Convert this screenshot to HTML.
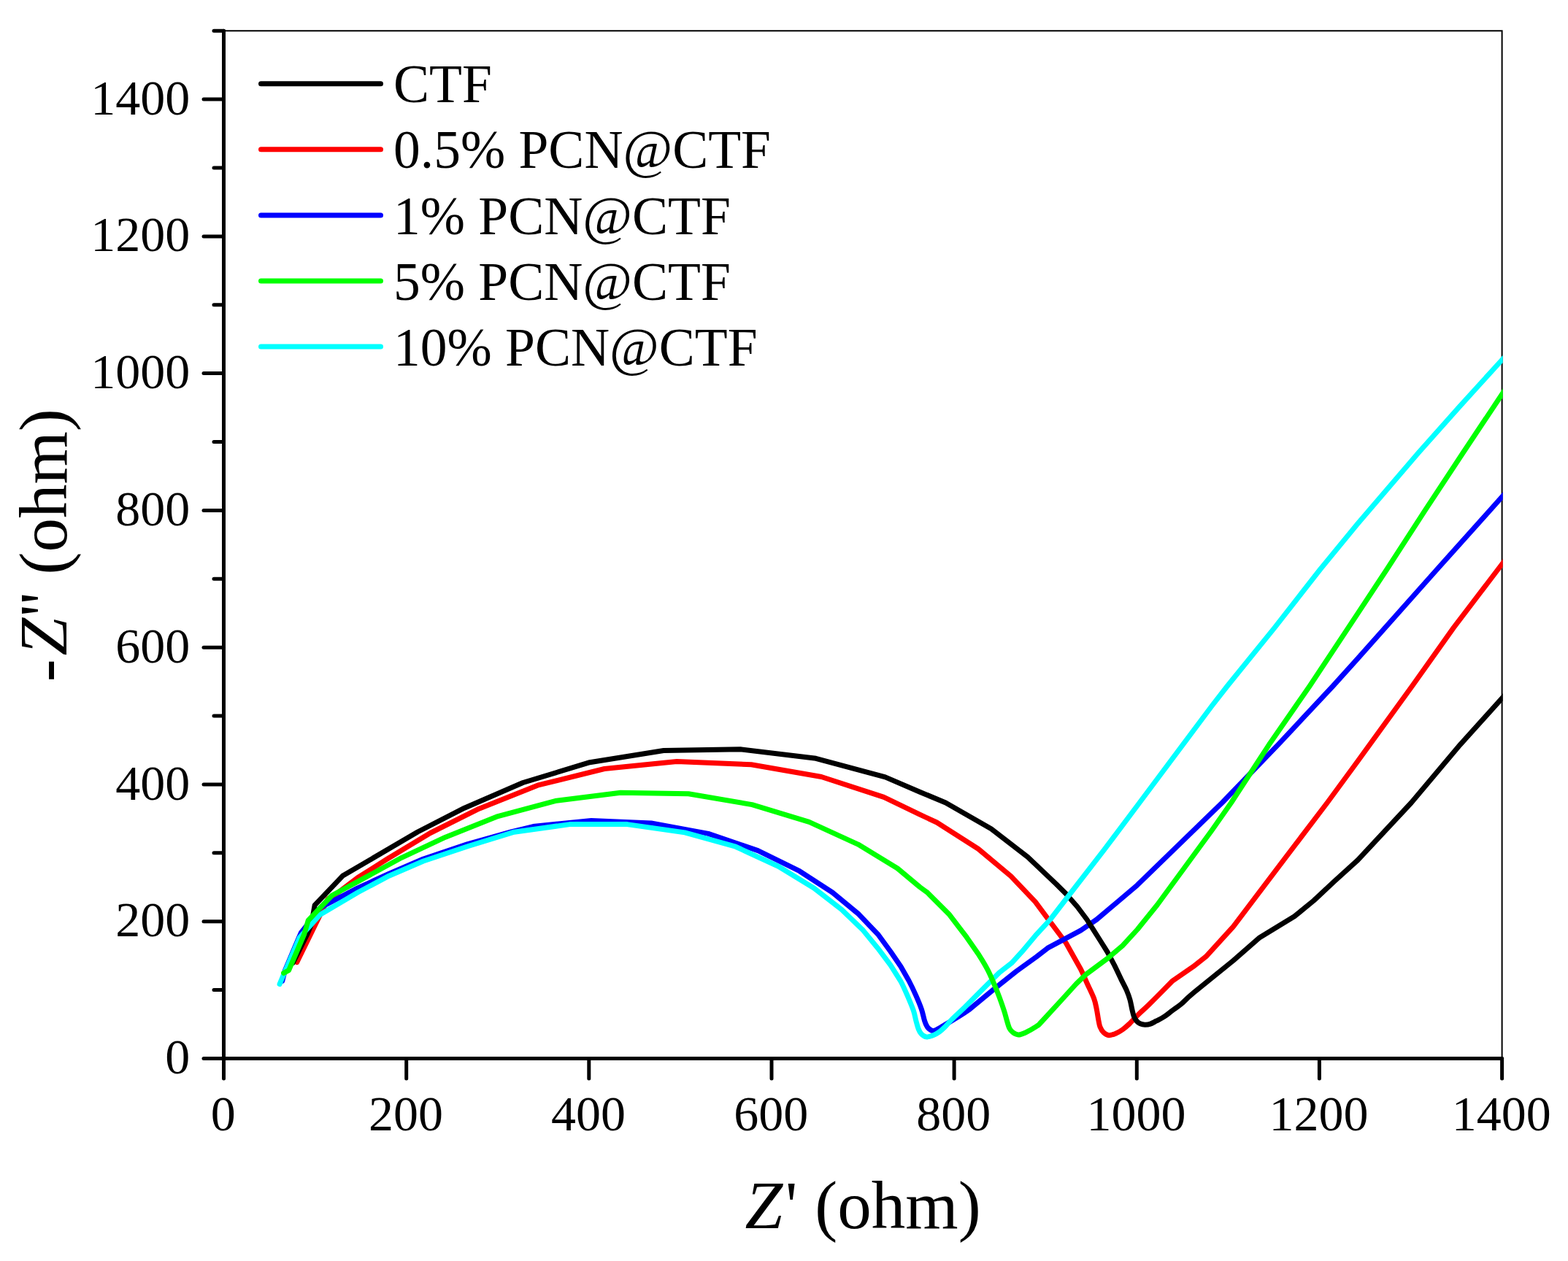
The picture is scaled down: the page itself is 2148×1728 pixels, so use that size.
<!DOCTYPE html>
<html lang="en"><head><meta charset="utf-8"><title>Nyquist plot</title>
<style>
html,body{margin:0;padding:0;background:#fff;}
body{width:2148px;height:1728px;overflow:hidden;}
svg{display:block;}
text{font-family:"Liberation Serif","Times New Roman",serif;fill:#000;}
.tk{font-size:68px;}
.lg{font-size:73.5px;}
.ti{font-size:93px;}
.it{font-style:italic;}
.ax{stroke:#000;stroke-width:5;stroke-linecap:round;fill:none;}
.fr{stroke:#000;stroke-width:2;fill:none;stroke-linecap:round;}
.cv{fill:none;stroke-width:7;stroke-linejoin:round;stroke-linecap:round;}
</style></head><body>
<svg width="2148" height="1728" viewBox="0 0 2148 1728">
<rect x="0" y="0" width="2148" height="1728" fill="#fff"/>
<defs><clipPath id="cp"><rect x="306.5" y="42.2" width="1752.2" height="1408.3"/></clipPath></defs>
<path class="fr" d="M306.5 42.2H2057.6V1450.5"/>
<path class="ax" d="M306.5 42.2V1478"/>
<path class="ax" d="M279 1450.5H2057.6"/>
<g class="ax">
<path d="M293 1356.6H306.5"/>
<path d="M279 1262.7H306.5"/>
<path d="M293 1168.8H306.5"/>
<path d="M279 1075H306.5"/>
<path d="M293 981.1H306.5"/>
<path d="M279 887.2H306.5"/>
<path d="M293 793.3H306.5"/>
<path d="M279 699.4H306.5"/>
<path d="M293 605.5H306.5"/>
<path d="M279 511.6H306.5"/>
<path d="M293 417.7H306.5"/>
<path d="M279 323.9H306.5"/>
<path d="M293 230H306.5"/>
<path d="M279 136.1H306.5"/>
<path d="M293 42.2H306.5"/>
<path d="M556.7 1450.5V1478"/>
<path d="M806.8 1450.5V1478"/>
<path d="M1057 1450.5V1478"/>
<path d="M1307.1 1450.5V1478"/>
<path d="M1557.3 1450.5V1478"/>
<path d="M1807.4 1450.5V1478"/>
<path d="M2057.6 1450.5V1478"/>
</g>
<g class="tk" text-anchor="end">
<text x="260.3" y="1471">0</text>
<text x="260.3" y="1283.2">200</text>
<text x="260.3" y="1095.5">400</text>
<text x="260.3" y="907.7">600</text>
<text x="260.3" y="719.9">800</text>
<text x="260.3" y="532.1">1000</text>
<text x="260.3" y="344.4">1200</text>
<text x="260.3" y="156.6">1400</text>
</g>
<g class="tk" text-anchor="middle">
<text x="305.7" y="1548.8">0</text>
<text x="555.9" y="1548.8">200</text>
<text x="806" y="1548.8">400</text>
<text x="1056.2" y="1548.8">600</text>
<text x="1306.3" y="1548.8">800</text>
<text x="1556.5" y="1548.8">1000</text>
<text x="1806.6" y="1548.8">1200</text>
<text x="2056.8" y="1548.8">1400</text>
</g>
<g class="cv" clip-path="url(#cp)">
<path stroke="#ff0000" d="M406.7 1318.7L449.4 1231.4L461.6 1224.3L489.9 1202.8L530.2 1177.3L589.5 1141.5L656.3 1108.2L736.4 1076.2L828 1053.5L927.1 1043.5L1029.2 1047.7L1125.2 1064.5L1210.8 1092.4L1260 1116.2L1283.3 1127L1340.1 1163.3L1384.8 1200.6L1418.3 1235.9L1435 1258.3L1460.2 1292L1480 1327.2C1484.8 1336.5 1486.2 1340.9 1489.3 1347.7C1492.4 1354.5 1496.4 1362.3 1498.6 1368.2C1500.8 1374.1 1501.3 1378.3 1502.3 1383.1C1503.3 1387.9 1503.9 1393.1 1504.7 1397.1C1505.5 1401.1 1505.8 1404.3 1507 1407.3C1508.2 1410.2 1509.7 1412.9 1511.7 1414.8C1513.7 1416.7 1516.3 1418.5 1519.1 1418.7C1521.9 1418.9 1525.3 1417.5 1528.4 1416.2C1531.5 1414.9 1534.6 1413.2 1537.7 1411C1540.8 1408.8 1543.4 1406.5 1547 1403.1C1550.6 1399.7 1554.8 1394.9 1559.1 1390.6C1563.4 1386.3 1567.7 1382.8 1573.1 1377.5C1578.5 1372.2 1586.3 1364.4 1591.7 1358.9L1605.6 1344.7L1634.5 1324.7L1652.1 1310.8L1689.4 1269.8L1757.3 1180.1L1818.2 1100L1860 1043L1934.6 940L1991.3 860.1L2052.3 780L2075 750.3"/>
<path stroke="#0000ff" d="M386.7 1344.5L390.4 1329.8L409.1 1285.6L412.4 1278.2L439.1 1243.7L490 1216.9L533 1197.2L580 1177L640 1156.8L700.3 1139.8L730.4 1132.6L810 1124.4L892.1 1127.9L970.2 1142.4L1038.3 1165.6L1095.3 1193.7L1140.4 1223L1176.4 1252.8L1203.4 1281.2L1220 1304L1234 1324.5L1245.1 1344C1248.5 1350.5 1251.6 1357.1 1254.5 1363.6C1257.4 1370.1 1260.4 1377.2 1262.4 1383.1C1264.4 1389 1265.3 1394.9 1266.6 1398.9C1267.9 1402.9 1268.8 1405.1 1270.3 1407.3C1271.8 1409.5 1274.2 1411.2 1275.9 1412C1277.6 1412.8 1278.2 1412.8 1280.5 1412C1282.8 1411.2 1282.2 1411.7 1290 1407C1297.8 1402.3 1314.9 1392.8 1327.1 1384L1363.4 1354L1392.3 1331L1420 1311L1435.2 1299.2L1480.3 1275.2L1502.4 1260L1557.8 1213.1L1660 1113.8L1674.2 1100L1751.2 1020.1L1826.1 940L1860 902.3L1968.8 780L2075 661.5"/>
<path stroke="#000000" d="M401.3 1319.5L421 1280L425.9 1268.5L429 1252.6L431.2 1240.3L469.3 1200.3L572.2 1140L636.3 1107.2L716.4 1072.5L808 1044.7L909.1 1028.5L1014.2 1026.7L1117.7 1039.3L1212.7 1064.9L1260 1085.2L1295.4 1100L1357.8 1135.8L1408 1174.5L1447.2 1211.7L1460 1224.5L1475.8 1242.5L1488.9 1260L1507.9 1290L1517.2 1304.9L1526.6 1322.6C1529.7 1328.8 1533.1 1336.4 1535.9 1342.1C1538.7 1347.8 1541.3 1352.3 1543.3 1357C1545.3 1361.7 1546.8 1365.8 1548 1370.1C1549.2 1374.4 1549.9 1379.2 1550.8 1383.1C1551.7 1387 1552.5 1390.7 1553.6 1393.4C1554.7 1396.1 1555.9 1397.8 1557.3 1399.4C1558.7 1401 1560 1402 1561.9 1402.8C1563.8 1403.6 1566.2 1404.2 1568.5 1404.2C1570.8 1404.2 1573.3 1404 1575.9 1403.1C1578.5 1402.2 1581.2 1400.5 1584.3 1398.9C1587.4 1397.3 1590.9 1395.7 1594.5 1393.4C1598.1 1391.1 1601.8 1387.9 1605.7 1385C1609.6 1382.1 1612.8 1380.2 1617.8 1376.1C1622.8 1371.9 1623.5 1370 1635.4 1360.1L1689.4 1316.4L1725.7 1284.7L1773.2 1255.8L1799.7 1234.1L1827.6 1208L1860 1178.7L1933.3 1100L2000.6 1020.1L2075 937.6"/>
<path stroke="#00ffff" d="M383.1 1348.6L386 1341.5L391.1 1329.5L410.5 1284.5L438.4 1253.5L490 1223L533 1200.2L580 1180L640 1160L704.3 1140.2L780.4 1129.6L859.1 1129.6L938.1 1140.9L1007.7 1160.2L1066.3 1187.2L1115 1217L1153.1 1246.6L1182.2 1274.6L1202.4 1299.2L1220 1322.6L1234 1344.9C1238.2 1352.7 1242.1 1362.3 1245.1 1369.1C1248 1375.9 1250.1 1380.9 1251.7 1385.9C1253.3 1390.9 1253.8 1394.9 1254.9 1398.9C1256 1402.9 1257 1407.1 1258.2 1410.1C1259.4 1413 1260.2 1414.8 1261.9 1416.6C1263.6 1418.4 1265.8 1420.4 1268.4 1420.8C1271 1421.2 1274.6 1420.2 1277.7 1419C1280.8 1417.8 1284.2 1415.8 1287 1413.8C1289.8 1411.8 1291.7 1410.1 1294.5 1407.3C1297.3 1404.5 1299.1 1401.8 1303.8 1397.1C1308.5 1392.4 1316.2 1385.5 1322.4 1379.4L1341 1360.8L1355 1346.8L1369 1332.8L1385.7 1319.8L1400 1304.2L1418.6 1281.9L1438.8 1260L1460 1232.5L1512.1 1165.2L1561 1100L1660 967.5L1681.4 940L1746.1 860.1L1808.7 780L1860 717.5L1943.5 620L1999.7 556.8L2075 474"/>
<path stroke="#00ff00" d="M388.6 1333.3L395.6 1329.6L416.8 1280L422.3 1261.1L454.9 1227L490 1208.1L500.1 1202.7L550.2 1175.3L610.3 1147.2L680.3 1119.2L762.4 1097.2L850.1 1086.2L943.2 1087.8L1030.2 1102.6L1108.4 1126.4L1175.5 1157.1L1229.5 1190L1260 1215.5L1270.2 1222.9L1300 1252.7L1324.1 1284.2L1341 1308.6C1345.8 1316.1 1349.7 1322.6 1353.1 1329.1C1356.5 1335.6 1358.8 1341.5 1361.5 1347.7C1364.2 1353.9 1366.7 1360.2 1369 1366.4C1371.3 1372.6 1373.8 1379.7 1375.5 1385C1377.2 1390.3 1378 1394 1379.2 1398C1380.4 1402 1381.5 1406.4 1382.9 1409.2C1384.3 1412 1385.6 1413.3 1387.6 1414.8C1389.6 1416.3 1392.2 1417.9 1395 1418C1397.8 1418.1 1400.2 1417.1 1404.4 1415.2C1408.6 1413.3 1416.2 1408.9 1420 1406.4C1423.8 1403.9 1421 1406.3 1427 1400L1455.9 1368.5L1474.5 1348L1487.5 1335.4L1518.2 1312.6L1537.8 1295.9L1558.3 1273.5L1585.3 1240L1660 1138L1686.6 1100L1738.7 1020.1L1794.2 940L1860 840.6L1900 780L1951.7 700.1L2004.5 620L2075 514.1"/>
</g>
<g class="lg">
<path d="M357.5 114.7H521.5" stroke="#000000" stroke-width="7" stroke-linecap="round" fill="none"/>
<text x="539" y="140.3">CTF</text>
<path d="M357.5 204.8H521.5" stroke="#ff0000" stroke-width="7" stroke-linecap="round" fill="none"/>
<text x="539" y="230.4">0.5% PCN@CTF</text>
<path d="M357.5 294.9H521.5" stroke="#0000ff" stroke-width="7" stroke-linecap="round" fill="none"/>
<text x="539" y="320.5">1% PCN@CTF</text>
<path d="M357.5 385H521.5" stroke="#00ff00" stroke-width="7" stroke-linecap="round" fill="none"/>
<text x="539" y="410.6">5% PCN@CTF</text>
<path d="M357.5 475.1H521.5" stroke="#00ffff" stroke-width="7" stroke-linecap="round" fill="none"/>
<text x="539" y="500.7">10% PCN@CTF</text>
</g>
<text class="ti" x="1020.6" y="1682.5"><tspan class="it">Z</tspan><tspan dx="3.4">'</tspan><tspan dx="0.6"> (ohm)</tspan></text>
<text class="ti" transform="translate(91 934.2) rotate(-90)"><tspan dy="1.9">-</tspan><tspan class="it" dx="4.7" dy="-1.9">Z</tspan><tspan dx="1.9">''</tspan><tspan dx="0.6"> (ohm)</tspan></text>
</svg>
</body></html>
